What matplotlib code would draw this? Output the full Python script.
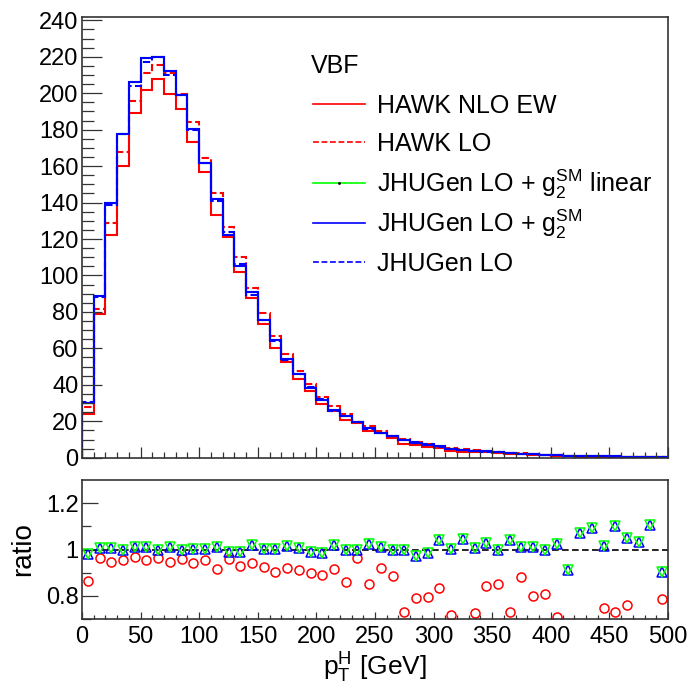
import numpy as np
import matplotlib
matplotlib.use("Agg")
import matplotlib.pyplot as plt
from matplotlib.lines import Line2D
from matplotlib.ticker import MultipleLocator, FixedLocator, FixedFormatter

plt.rcParams['font.family'] = ['Liberation Sans', 'DejaVu Sans']
plt.rcParams['mathtext.fontset'] = 'custom'
plt.rcParams['mathtext.rm'] = 'Liberation Sans'
plt.rcParams['mathtext.it'] = 'Liberation Sans'
plt.rcParams['mathtext.bf'] = 'Liberation Sans:bold'

# p_T^H binning: 50 bins of 10 GeV
bin_edges = np.arange(0, 510, 10)

# HAWK LO (events per bin)
hawk_lo = [27.9, 81.7, 129.0, 168.0, 195.6, 211.3, 215.6, 211.3, 199.8, 184.0,
           164.5, 145.4, 126.4, 109.9, 93.0, 79.5, 67.0, 56.8, 47.4, 40.7,
           33.3, 28.2, 24.2, 19.6, 17.2, 14.7, 12.1, 10.5, 8.7, 7.7,
           6.6, 5.5, 4.7, 4.0, 3.6, 3.1, 2.7, 2.4, 2.0, 1.7,
           1.4, 1.2, 1.0, 0.9, 0.8, 0.7, 0.6, 0.5, 0.45, 0.4]

# JHUGen LO (events per bin)
jhu_lo = [30.8, 88.1, 138.7, 177.8, 203.9, 217.0, 220.0, 210.0, 199.3, 179.9,
          161.5, 140.7, 123.9, 106.4, 89.3, 75.6, 64.3, 53.5, 45.9, 38.6,
          32.3, 25.9, 22.7, 19.4, 15.8, 13.4, 11.7, 9.9, 8.4, 7.3,
          6.1, 5.0, 4.3, 3.8, 3.4, 3.1, 2.6, 2.3, 2.0, 1.7,
          1.4, 1.2, 1.0, 0.85, 0.75, 0.65, 0.55, 0.5, 0.45, 0.4]

# HAWK NLO EW / HAWK LO
ratio_hawk = [0.864, 0.965, 0.948, 0.954, 0.967, 0.955, 0.965, 0.945, 0.957, 0.943,
              0.954, 0.917, 0.959, 0.929, 0.942, 0.923, 0.901, 0.920, 0.910, 0.900,
              0.891, 0.917, 0.860, 0.964, 0.852, 0.921, 0.886, 0.729, 0.791, 0.794,
              0.833, 0.716, 0.660, 0.725, 0.841, 0.851, 0.730, 0.881, 0.801, 0.807,
              0.710, 0.650, 0.640, 0.660, 0.746, 0.732, 0.762, 0.640, 0.620, 0.788]

# (JHUGen LO + g2^SM) / JHUGen LO; the linear variant agrees within the marker size
ratio_g2 = [0.981, 1.006, 1.007, 1.000, 1.010, 1.010, 1.000, 1.010, 1.000, 1.004,
            1.003, 1.010, 0.988, 0.988, 1.019, 1.003, 1.003, 1.014, 1.006, 0.991,
            0.987, 1.020, 0.999, 0.999, 1.022, 1.012, 1.000, 1.000, 0.972, 0.986,
            1.039, 1.004, 1.045, 1.007, 1.030, 0.996, 1.041, 1.009, 1.009, 1.000,
            1.026, 0.912, 1.070, 1.094, 1.014, 1.103, 1.051, 1.033, 1.104, 0.903]
ratio_g2_linear = list(ratio_g2)

hawk_lo = np.array(hawk_lo)
jhu_lo = np.array(jhu_lo)
hawk_nlo = hawk_lo * np.array(ratio_hawk)
jhu_g2 = jhu_lo * np.array(ratio_g2)
jhu_g2_lin = jhu_lo * np.array(ratio_g2_linear)
centers = 0.5 * (bin_edges[:-1] + bin_edges[1:])

RED = '#ff0000'
BLUE = '#0000ff'
GREEN = '#00ff00'
FRAME = '#333333'
DASH = (0, (3.5, 1.6))

fig = plt.figure(figsize=(6.88, 6.84), dpi=100)
ax = fig.add_axes([0.1192, 0.3308, 0.8517, 0.6448])
axr = fig.add_axes([0.1192, 0.0950, 0.8517, 0.2032])

lw = 1.5
ax.stairs(hawk_nlo, bin_edges, color=RED, lw=lw)
ax.stairs(hawk_lo, bin_edges, color=RED, lw=lw, linestyle=DASH)
ax.stairs(jhu_g2_lin, bin_edges, color=GREEN, lw=lw)
ax.stairs(jhu_g2, bin_edges, color=BLUE, lw=lw)
ax.stairs(jhu_lo, bin_edges, color=BLUE, lw=lw, linestyle=DASH)

ax.set_xlim(0, 500)
ax.set_ylim(0, 242)
ax.yaxis.set_major_locator(MultipleLocator(20))
ax.yaxis.set_minor_locator(MultipleLocator(5))
ax.xaxis.set_major_locator(MultipleLocator(50))
ax.xaxis.set_minor_locator(MultipleLocator(10))
ax.tick_params(axis='x', which='both', labelbottom=False, direction='in', color=FRAME, width=0.9)
ax.tick_params(axis='x', which='major', length=8)
ax.tick_params(axis='x', which='minor', length=4.3)
ax.tick_params(axis='y', which='both', direction='in', color=FRAME, width=0.9, labelsize=17, pad=2.5)
ax.tick_params(axis='y', which='major', length=14.5)
ax.tick_params(axis='y', which='minor', length=8.4)
for s in ax.spines.values():
    s.set_color(FRAME)
    s.set_linewidth(1.2)

# legend block (axes-fraction coordinates)
leg_styles = [
    dict(color=RED, lw=1.2),
    dict(color=RED, lw=1.2, linestyle=DASH),
    dict(color=GREEN, lw=1.2),
    dict(color=BLUE, lw=1.2),
    dict(color=BLUE, lw=1.2, linestyle=DASH),
]
leg_labels = [
    'HAWK NLO EW',
    'HAWK LO',
    r'JHUGen LO + g$_{2}^{\mathrm{SM}}$ linear',
    r'JHUGen LO + g$_{2}^{\mathrm{SM}}$',
    'JHUGen LO',
]
leg_line_y = [0.8020, 0.7152, 0.6222, 0.5315, 0.4431]
leg_x0, leg_x1, leg_tx = 0.3942, 0.4829, 0.5034
baseline_shift = 0.0206
ax.text(0.3906, 0.8723, 'VBF', transform=ax.transAxes, fontsize=18,
        ha='left', va='baseline')
for style, label, y in zip(leg_styles, leg_labels, leg_line_y):
    ax.add_line(Line2D([leg_x0, leg_x1], [y, y], transform=ax.transAxes,
                       clip_on=False, **style))
    ax.text(leg_tx, y - baseline_shift, label, transform=ax.transAxes,
            fontsize=18, ha='left', va='baseline')
ax.plot([0.5 * (leg_x0 + leg_x1)], [leg_line_y[2]], transform=ax.transAxes,
        marker='.', ms=2, color='black', linestyle='none')

# ratio panel
axr.axhline(1.0, color='black', lw=1.2, linestyle=(0, (4, 2)))
axr.plot(centers, ratio_hawk, linestyle='none', marker='o', ms=6.5,
         mfc='none', mec=RED, mew=1.1)
axr.plot(centers, ratio_g2, linestyle='none', marker='^', ms=6.5,
         mfc='none', mec=BLUE, mew=1.1)
axr.plot(centers, ratio_g2_linear, linestyle='none', marker='v', ms=6.5,
         mfc='none', mec=GREEN, mew=1.1)

axr.set_xlim(0, 500)
axr.set_ylim(0.7, 1.3)
axr.yaxis.set_major_locator(FixedLocator([0.8, 1.0, 1.2]))
axr.yaxis.set_major_formatter(FixedFormatter(['0.8', '1', '1.2']))
axr.yaxis.set_minor_locator(FixedLocator([0.7, 0.9, 1.1]))
axr.xaxis.set_major_locator(MultipleLocator(50))
axr.xaxis.set_minor_locator(MultipleLocator(10))
axr.tick_params(axis='x', which='both', direction='in', color=FRAME, width=0.9, labelsize=17, pad=5)
axr.tick_params(axis='x', which='major', length=5)
axr.tick_params(axis='x', which='minor', length=3)
axr.tick_params(axis='y', which='both', direction='in', color=FRAME, width=0.9, labelsize=17, pad=2.5)
axr.tick_params(axis='y', which='major', length=11.3)
axr.tick_params(axis='y', which='minor', length=6.5)
for s in axr.spines.values():
    s.set_color(FRAME)
    s.set_linewidth(1.2)

axr.set_ylabel('ratio', fontsize=20)
axr.yaxis.set_label_coords(-0.078, 0.5)
axr.set_xlabel(r'p$_{\mathrm{T}}^{\mathrm{H}}$ [GeV]', fontsize=19, labelpad=2)

fig.savefig('out.png', dpi=100)
